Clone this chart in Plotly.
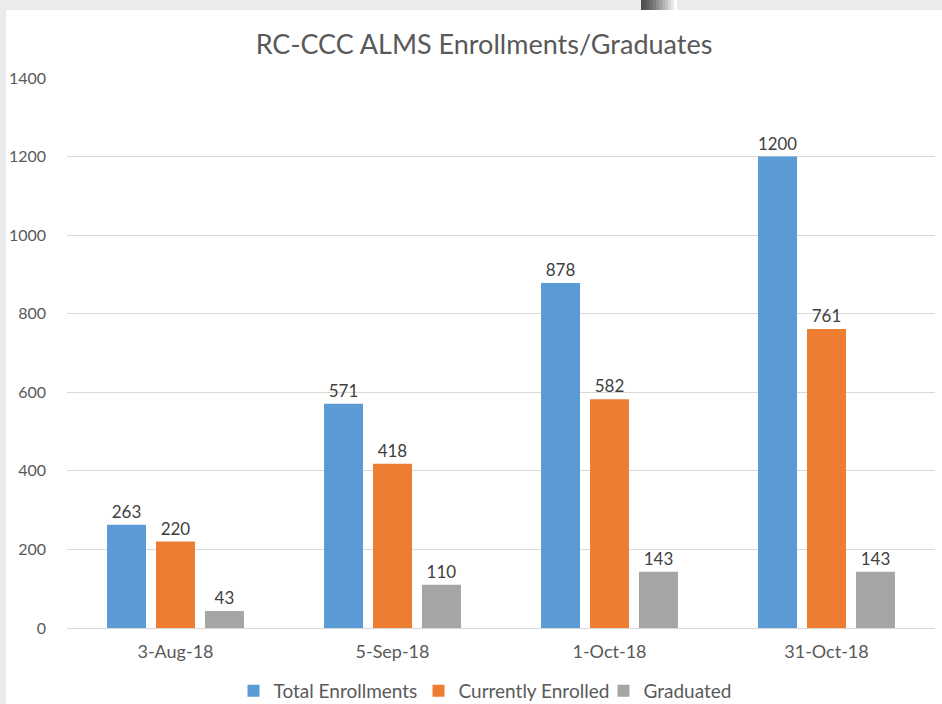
import plotly.graph_objects as go

categories = ["3-Aug-18", "5-Sep-18", "1-Oct-18", "31-Oct-18"]
total_enrollments = [263, 571, 878, 1200]
currently_enrolled = [220, 418, 582, 761]
graduated = [43, 110, 143, 143]
y_ticks = [0, 200, 400, 600, 800, 1000, 1200, 1400]

W, H = 942, 704
L, R, T, B = 67, 7, 78, 76
PW, PH = W - L - R, H - T - B

def px(x):
    return (x - L) / PW

def py(y):
    return (H - B - y) / PH

FONT = "Lato, 'Open Sans', sans-serif"

fig = go.Figure()
series = [
    ("Total Enrollments", total_enrollments, "#5B9BD5"),
    ("Currently Enrolled", currently_enrolled, "#ED7D31"),
    ("Graduated", graduated, "#A5A5A5"),
]
for name, vals, col in series:
    fig.add_trace(go.Bar(
        name=name, x=categories, y=vals, marker_color=col,
        marker_line_width=0,
        text=[str(v) for v in vals], textposition="outside",
        textfont=dict(size=17, color="#404040", family=FONT),
        cliponaxis=False,
    ))

shapes = [
    dict(type="rect", xref="paper", yref="paper", x0=px(0), x1=px(W), y0=py(10), y1=py(0),
         fillcolor="#EBEBEB", line_width=0, layer="below"),
    dict(type="rect", xref="paper", yref="paper", x0=px(0), x1=px(6), y0=py(H), y1=py(0),
         fillcolor="#EBEBEB", line_width=0, layer="below"),
]
n = 12
x0g, x1g = 641, 677
for i in range(n):
    a = x0g + (x1g - x0g) * i / n
    b = x0g + (x1g - x0g) * (i + 1) / n
    v = int(0x50 + (0xFF - 0x50) * (i / (n - 1)) ** 1.3)
    shapes.append(dict(type="rect", xref="paper", yref="paper", x0=px(a), x1=px(b),
                       y0=py(10), y1=py(0), fillcolor=f"rgb({v},{v},{v})", line_width=0,
                       layer="below"))

fig.update_layout(
    width=W, height=H,
    margin=dict(l=L, r=R, t=T, b=B, pad=0, autoexpand=False),
    paper_bgcolor="white", plot_bgcolor="white",
    barmode="group", bargap=0.323, bargroupgap=0.204,
    title=dict(text="RC-CCC ALMS Enrollments/Graduates", xref="container", x=484 / W,
               xanchor="center", y=1 - 45 / H, yanchor="middle",
               font=dict(size=27, color="#595959", family=FONT)),
    font=dict(family=FONT, color="#595959"),
    showlegend=True,
    legend=dict(orientation="h", x=px(511), xanchor="center", y=py(691), yanchor="middle",
                font=dict(size=19, color="#595959", family=FONT),
                itemwidth=30, traceorder="normal", entrywidth=140, entrywidthmode="pixels"),
    shapes=shapes,
)
fig.update_yaxes(range=[0, 1400], tickvals=y_ticks, ticktext=[str(t) for t in y_ticks],
                 showgrid=True, gridcolor="#D9D9D9", gridwidth=1,
                 zeroline=True, zerolinecolor="#D9D9D9", zerolinewidth=1,
                 showline=False, ticks="", ticklabelstandoff=20,
                 tickfont=dict(size=16, color="#595959", family=FONT))
fig.update_xaxes(showline=False, ticks="", ticklabelstandoff=11,
                 tickfont=dict(size=18, color="#595959", family=FONT))

fig.write_html("out.html", config={"displayModeBar": False},
               post_script="document.body.style.margin='0';document.body.style.padding='0';"
                           "document.body.style.overflow='hidden';")
